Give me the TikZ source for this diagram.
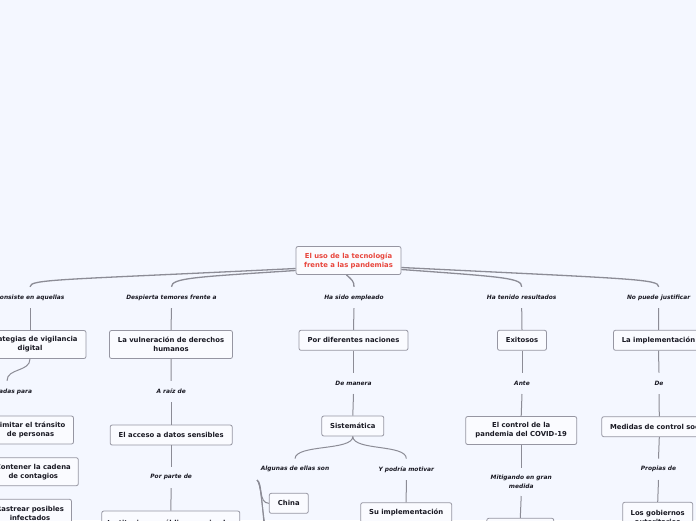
\documentclass[tikz,border=0pt]{standalone}
\usepackage{fontspec}
\setmainfont{DejaVu Sans}
\definecolor{bg}{RGB}{244,247,255}
\definecolor{ln}{RGB}{140,140,150}
\definecolor{bx}{RGB}{150,150,162}
\definecolor{rootred}{RGB}{232,69,60}
\definecolor{tx}{RGB}{25,25,35}
\tikzset{
  box/.style={draw=bx, line width=0.8pt, rounded corners=2pt, fill=white!55!bg,
    font=\bfseries\fontsize{6.85}{9}\selectfont, text=tx, align=center, inner sep=0pt},
  box1/.style={box, minimum height=20pt},
  box2/.style={box, minimum height=28pt},
  lab/.style={font=\bfseries\itshape\fontsize{5.9}{8.4}\selectfont, text=tx, align=center,
    inner sep=0pt, minimum height=21pt},
  conn/.style={draw=ln, line width=1pt},
  rootconn/.style={draw=ln, line width=1.3pt},
}
\begin{document}
\begin{tikzpicture}[x=1pt,y=-1pt]
\fill[bg] (0,0) rectangle (696,520);
\useasboundingbox (0,0) rectangle (696,520);

% root
\node[box2, minimum width=105pt, text=rootred] (root) at (348.5,260.5) {El uso de la tecnología\\frente a las pandemias};

% first level labels
\node[lab] (l1) at (30,297.5) {Consiste en aquellas};
\node[lab] (l2) at (171.5,297.5) {Despierta temores frente a};
\node[lab] (l3) at (354,297.5) {Ha sido empleado};
\node[lab] (l4) at (521.7,297.5) {Ha tenido resultados};
\node[lab] (l5) at (658.7,297.5) {No puede justificar};

% first level boxes
\node[box2, minimum width=112pt] (estr) at (30,344.5) {Estrategias de vigilancia\\digital};
\node[box2, minimum width=123pt] (vuln) at (171,344.5) {La vulneración de derechos\\humanos};
\node[box1, minimum width=109pt] (pordif) at (353.5,340.3) {Por diferentes naciones};
\node[box1, minimum width=49pt] (exit) at (522,340.3) {Exitosos};
\node[box1, minimum width=90pt] (impl) at (658.5,340.3) {La implementación};

% root connectors
\draw[rootconn] ([yshift=-8pt]root.west) .. controls (60,280) and (30,279) .. (l1.north);
\draw[rootconn] ([yshift=-10pt]root.west) .. controls (195,277) and (171.5,278) .. (l2.north);
\draw[rootconn] ([xshift=-2pt]root.south) .. controls (352,280) and (354,281) .. (l3.north);
\draw[rootconn] ([yshift=-9pt]root.east) .. controls (505,277) and (521.7,278) .. (l4.north);
\draw[rootconn] ([yshift=-7pt]root.east) .. controls (635,279) and (658.7,279) .. (l5.north);

\draw[conn] (l1.south) -- (estr.north);
\draw[conn] (l2.south) -- (vuln.north);
\draw[conn] (l3.south) -- (pordif.north);
\draw[conn] (l4.south) -- (exit.north);
\draw[conn] (l5.south) -- (impl.north);

% branch 1
\node[lab] (util) at (7,391.5) {Utilizadas para};
\draw[conn] (estr.south) .. controls (30,372) and (7,368) .. (util.north);
\node[box2, minimum width=86pt] (lim) at (30.5,430) {Limitar el tránsito\\de personas};
\node[box2, minimum width=90pt] (cont) at (33.3,471.7) {Contener la cadena\\de contagios};
\node[box2, minimum width=83pt] (rast) at (30,513.3) {Rastrear posibles\\infectados};
\draw[conn] (util.west) .. controls (-40,391.5) and (-35,430) .. (lim.west);
\draw[conn] (util.west) .. controls (-40,391.5) and (-35,471.7) .. (cont.west);
\draw[conn] (util.west) .. controls (-40,391.5) and (-35,513.3) .. (rast.west);

% branch 2
\node[lab] (araiz) at (171.2,391.5) {A raíz de};
\node[box1, minimum width=122pt] (acceso) at (171.2,435) {El acceso a datos sensibles};
\node[lab] (porparte) at (171.2,477.3) {Por parte de};
\node[box, minimum width=138pt, minimum height=24pt] (inst) at (170.8,523) {Instituciones públicas y privadas};
\draw[conn] (vuln.south) -- (araiz.north);
\draw[conn] (araiz.south) -- (acceso.north);
\draw[conn] (acceso.south) -- (porparte.north);
\draw[conn] (porparte.south) -- (inst.north);

% branch 3
\node[lab] (demanera) at (353.5,383.3) {De manera};
\node[box1, minimum width=62pt] (sist) at (352.8,426) {Sistemática};
\draw[conn] (pordif.south) -- (demanera.north);
\draw[conn] (demanera.south) -- (sist.north);
\node[lab] (alg) at (295,469.3) {Algunas de ellas son};
\node[lab] (ypod) at (406.3,469.3) {Y podría motivar};
\draw[conn] (sist.south) .. controls (353,451) and (296,444) .. (alg.north);
\draw[conn] (sist.south) .. controls (353,451) and (406.3,444) .. (ypod.north);
\node[box1, minimum width=39pt] (china) at (288.8,503.3) {China};
\coordinate (algk) at ([xshift=-38pt]alg.south);
\coordinate (c2) at (272,545);
\coordinate (c3) at (272,587);
\draw[conn] (algk) .. controls (263,483) and (258,503.3) .. (china.west);
\draw[conn] (algk) .. controls (263,484) and (261,530) .. (c2);
\draw[conn] (algk) .. controls (264,486) and (264,560) .. (c3);
\node[box1, minimum width=91pt] (suimpl) at (406.2,512.7) {Su implementación};
\draw[conn] (ypod.south) -- (suimpl.north);

% branch 4
\node[lab] (ante) at (522,383.3) {Ante};
\node[box2, minimum width=111pt] (control) at (521.2,430.5) {El control de la\\pandemia del COVID-19};
\node[lab, minimum height=28pt] (mitig) at (521.2,481.8) {Mitigando en gran\\medida};
\node[box1, minimum width=67pt] (mitbox) at (520.3,528.3) {};
\draw[conn] (exit.south) -- (ante.north);
\draw[conn] (ante.south) -- (control.north);
\draw[conn] (control.south) -- (mitig.north);
\draw[conn] (mitig.south) -- (mitbox.north);

% branch 5
\node[lab] (de) at (659,383.3) {De};
\node[box1, minimum width=115pt] (medidas) at (659.3,426.7) {Medidas de control social};
\node[lab] (propias) at (658.5,469.3) {Propias de};
\node[box, minimum width=70pt, minimum height=30pt] (gob) at (657.7,517.3) {Los gobiernos\\autoritarios};
\draw[conn] (impl.south) -- (de.north);
\draw[conn] (de.south) -- (medidas.north);
\draw[conn] (medidas.south) -- (propias.north);
\draw[conn] (propias.south) -- (gob.north);
\end{tikzpicture}
\end{document}
